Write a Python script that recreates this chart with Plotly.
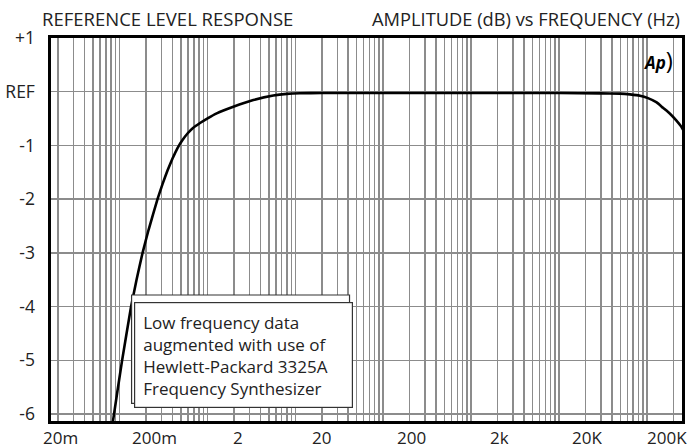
import math
import plotly.graph_objects as go

# ---- data ----
freq_hz = [0.078, 0.0842, 0.1066, 0.1350, 0.1559, 0.1825, 0.2136, 0.2704, 0.3083, 0.3513,
           0.4005, 0.4565, 0.5205, 0.5934, 0.6851, 0.8233, 1.015, 1.275, 1.970, 3.327,
           5.619, 7.98, 11.3, 20, 100, 1000, 10000, 29300, 49500, 64300,
           83600, 103000, 129500, 152800, 183500, 214800, 251000, 290000]
level_db = [-6.60, -6.132, -5.015, -4.009, -3.507, -3.004, -2.575, -1.998, -1.719, -1.467,
            -1.244, -1.048, -0.899, -0.778, -0.676, -0.583, -0.490, -0.402, -0.279, -0.155,
            -0.070, -0.040, -0.028, -0.025, -0.025, -0.025, -0.025, -0.030, -0.035, -0.050,
            -0.075, -0.120, -0.200, -0.300, -0.410, -0.530, -0.670, -0.880]

x_tick_vals = [0.02, 0.2, 2, 20, 200, 2000, 20000, 200000]
x_tick_text = ["20m", "200m", "2", "20", "200", "2k", "20K", "200K"]
x_label_nudge_px = [2, 8, 4, 0, 2, 2, 2, -6]
x_grid_mult = [1, 2, 3, 4, 5, 6, 7, 8, 9]
x_grid_decades = [-2, -1, 0, 1, 2, 3, 4, 5]
y_tick_vals = [1, 0, -1, -2, -3, -4, -5, -6]
y_tick_text = ["+1", "REF", "-1", "-2", "-3", "-4", "-5", "-6"]

title_left = "REFERENCE LEVEL RESPONSE"
title_right = "AMPLITUDE (dB) vs FREQUENCY (Hz)"
note_lines = ["Low frequency data", "augmented with use of",
              "Hewlett-Packard 3325A", "Frequency Synthesizer"]

grid_vals = [m * 10.0 ** d for d in x_grid_decades for m in x_grid_mult]

FONT = "Open Sans"
GRID = "#8c8c8c"
TXT = "#222222"

fig = go.Figure()
fig.add_trace(go.Scatter(
    x=freq_hz, y=level_db, mode="lines",
    line=dict(color="black", width=2.6, shape="spline", smoothing=0.3),
    hoverinfo="skip", showlegend=False))

fig.update_layout(
    width=690, height=447,
    margin=dict(l=51, r=8, t=38, b=26, autoexpand=False),
    paper_bgcolor="white", plot_bgcolor="white",
    font=dict(family=FONT, size=17, color=TXT),
    showlegend=False,
)

fig.update_xaxes(
    type="log", range=[-1.78, 5.40], automargin=False,
    tickmode="array", tickvals=x_tick_vals, ticktext=x_tick_text,
    showticklabels=False, showgrid=False, ticks="",
    minor=dict(tickmode="array", tickvals=grid_vals, showgrid=True,
               gridcolor=GRID, gridwidth=1.5, ticks=""),
    showline=True, mirror=True, linecolor="black", linewidth=2.6,
    zeroline=False,
)
fig.update_yaxes(
    range=[-6.13, 1.0], automargin=False,
    tickmode="array", tickvals=y_tick_vals, ticktext=y_tick_text,
    showgrid=True, gridcolor=GRID, gridwidth=1.5, ticks="",
    ticklabelstandoff=10,
    tickfont=dict(family=FONT, size=17.5, color=TXT),
    showline=True, mirror=True, linecolor="black", linewidth=2.6,
    zeroline=False,
)

# x tick labels, placed on the log x scale
for v, t, dx in zip(x_tick_vals, x_tick_text, x_label_nudge_px):
    fig.add_annotation(
        xref="x", yref="paper", x=math.log10(v), y=0,
        xanchor="center", yanchor="middle", yshift=-16, xshift=dx,
        text=t, showarrow=False, height=18, borderpad=0,
        font=dict(family=FONT, size=17, color=TXT))

# shadow box behind the note
fig.add_shape(type="rect", xref="paper", yref="paper",
              x0=0.1277, x1=0.4731, y0=0.046, y1=0.329,
              line=dict(color="#333333", width=1.2), fillcolor="white",
              layer="above")

fig.add_annotation(
    xref="paper", yref="paper", x=0.3043, y=0.1723,
    xanchor="center", yanchor="middle",
    text="<br>".join(note_lines), align="left", showarrow=False,
    width=201, height=88, borderpad=8,
    bgcolor="white", bordercolor="#333333", borderwidth=1.2,
    font=dict(family=FONT, size=17, color=TXT),
)

fig.add_annotation(
    xref="paper", yref="paper", x=-0.0175, y=1.0,
    xanchor="left", yanchor="bottom", yshift=5,
    text=title_left, showarrow=False,
    font=dict(family=FONT, size=18.5, color=TXT))
fig.add_annotation(
    xref="paper", yref="paper", x=1.0, y=1.0,
    xanchor="right", yanchor="bottom", yshift=5,
    text=title_right, showarrow=False,
    font=dict(family=FONT, size=18.3, color=TXT))

# Audio Precision logo
fig.add_annotation(
    xref="paper", yref="paper", x=0.962, y=0.943,
    xanchor="center", yanchor="middle",
    text="<b><i>Ap</i></b><span style='font-size:24px'>)</span>",
    showarrow=False,
    font=dict(family=FONT, size=17, color="black"))

fig.write_html("out.html",
               config={"displayModeBar": False, "staticPlot": True},
               post_script="document.body.style.margin='0';"
                           "document.body.style.overflow='hidden';")
